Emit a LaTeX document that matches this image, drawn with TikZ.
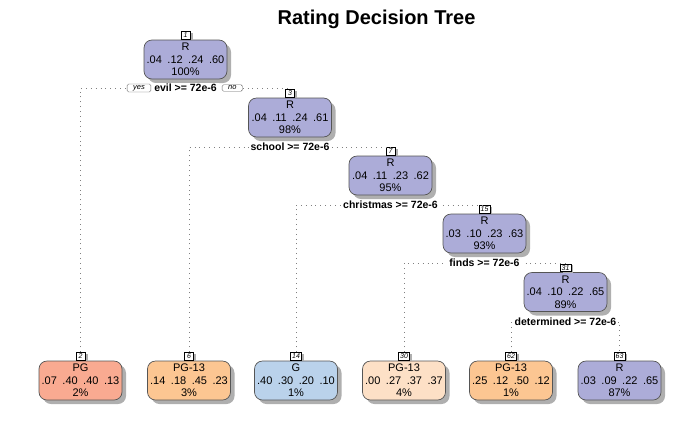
\documentclass[tikz,border=0pt]{standalone}
\usepackage{fontspec}
\setmainfont{Liberation Sans}
\usetikzlibrary{shadows}
\definecolor{cR}{RGB}{172,172,216}
\definecolor{cPG}{RGB}{249,170,145}
\definecolor{cPGd}{RGB}{252,198,146}
\definecolor{cPGl}{RGB}{253,224,198}
\definecolor{cG}{RGB}{186,210,235}
\definecolor{boxborder}{RGB}{85,85,85}
\definecolor{shadowgray}{RGB}{175,175,175}
\newcommand{\gp}{\hspace{5.5pt}}
\begin{document}
\begin{tikzpicture}[x=1pt,y=-1pt,
 tbox/.style={draw=boxborder, line width=0.7pt, rounded corners=8pt, minimum width=83pt, minimum height=39pt, inner sep=0pt, align=center, font=\fontsize{11}{12.5}\selectfont, drop shadow={shadow xshift=4pt,shadow yshift=-4pt,fill=shadowgray,opacity=1}},
 numlab/.style={draw=black, fill=white, line width=0.5pt, inner xsep=1.5pt, inner ysep=0.6pt, minimum height=7.5pt, minimum width=9pt, font=\fontsize{7}{7}\selectfont\itshape, anchor=south, drop shadow={shadow xshift=2.5pt, shadow yshift=-1.5pt, fill=shadowgray,opacity=1}},
 splitlab/.style={fill=white, inner xsep=2pt, inner ysep=1pt, font=\fontsize{10.5}{12}\selectfont\bfseries},
 yn/.style={draw=gray!80!black, fill=white, rounded corners=1.5pt, inner xsep=6pt, inner ysep=1.2pt, font=\fontsize{7.5}{8}\selectfont\itshape},
 split/.style={draw=gray, line width=0.8pt, dash pattern=on 0.9pt off 4pt}
]
\useasboundingbox (0,0) rectangle (700,432);
\node[font=\fontsize{20}{24}\selectfont\bfseries] (title) at (376.5,19) {Rating Decision Tree};

% internal nodes
\node[tbox, fill=cR] (n1) at (185.5,59.5) {R\\.04\gp.12\gp.24\gp.60\\100\%};
\node[numlab] (k1) at ([yshift=0.5pt]n1.north) {1};
\node[tbox, fill=cR] (n3) at (290,117.5) {R\\.04\gp.11\gp.24\gp.61\\98\%};
\node[numlab] (k3) at ([yshift=0.5pt]n3.north) {3};
\node[tbox, fill=cR] (n7) at (390.5,175.5) {R\\.04\gp.11\gp.23\gp.62\\95\%};
\node[numlab] (k7) at ([yshift=0.5pt]n7.north) {7};
\node[tbox, fill=cR] (n15) at (484.5,233.5) {R\\.03\gp.10\gp.23\gp.63\\93\%};
\node[numlab] (k15) at ([yshift=0.5pt]n15.north) {15};
\node[tbox, fill=cR] (n31) at (565.5,292) {R\\.04\gp.10\gp.22\gp.65\\89\%};
\node[numlab] (k31) at ([yshift=0.5pt]n31.north) {31};

% leaves
\node[tbox, fill=cPG] (n2) at (80.5,380.5) {PG\\.07\gp.40\gp.40\gp.13\\2\%};
\node[numlab] (k2) at ([yshift=0.5pt]n2.north) {2};
\node[tbox, fill=cPGd] (n6) at (189,380.5) {PG-13\\.14\gp.18\gp.45\gp.23\\3\%};
\node[numlab] (k6) at ([yshift=0.5pt]n6.north) {6};
\node[tbox, fill=cG] (n14) at (296,380.5) {G\\.40\gp.30\gp.20\gp.10\\1\%};
\node[numlab] (k14) at ([yshift=0.5pt]n14.north) {14};
\node[tbox, fill=cPGl] (n30) at (404,380.5) {PG-13\\.00\gp.27\gp.37\gp.37\\4\%};
\node[numlab] (k30) at ([yshift=0.5pt]n30.north) {30};
\node[tbox, fill=cPGd] (n62) at (511,380.5) {PG-13\\.25\gp.12\gp.50\gp.12\\1\%};
\node[numlab] (k62) at ([yshift=0.5pt]n62.north) {62};
\node[tbox, fill=cR] (n63) at (619.5,380.5) {R\\.03\gp.09\gp.22\gp.65\\87\%};
\node[numlab] (k63) at ([yshift=0.5pt]n63.north) {63};

% split coordinates
\coordinate (s1) at (185.5,88);
\coordinate (s2) at (290,147);
\coordinate (s3) at (390.5,205);
\coordinate (s4) at (484.5,263);
\coordinate (s5) at (565.5,322);

% connectors
\draw[split] (k2.north) |- (s1) -| (k3.north);
\draw[split] (k6.north) |- (s2) -| (k7.north);
\draw[split] (k14.north) |- (s3) -| (k15.north);
\draw[split] (k30.north) |- (s4) -| (k31.north);
\draw[split] (k62.north) |- (s5) -| (k63.north);

% split labels
\node[splitlab] (t1) at (s1) {evil >= 72e-6};
\node[splitlab] (t2) at (s2) {school >= 72e-6};
\node[splitlab] (t3) at (s3) {christmas >= 72e-6};
\node[splitlab] (t4) at (s4) {finds >= 72e-6};
\node[splitlab] (t5) at (s5) {determined >= 72e-6};
\node[yn, anchor=east] (yes) at ([xshift=-1pt]t1.west) {yes};
\node[yn, anchor=west] (no) at ([xshift=3pt]t1.east) {no};
\end{tikzpicture}
\end{document}
